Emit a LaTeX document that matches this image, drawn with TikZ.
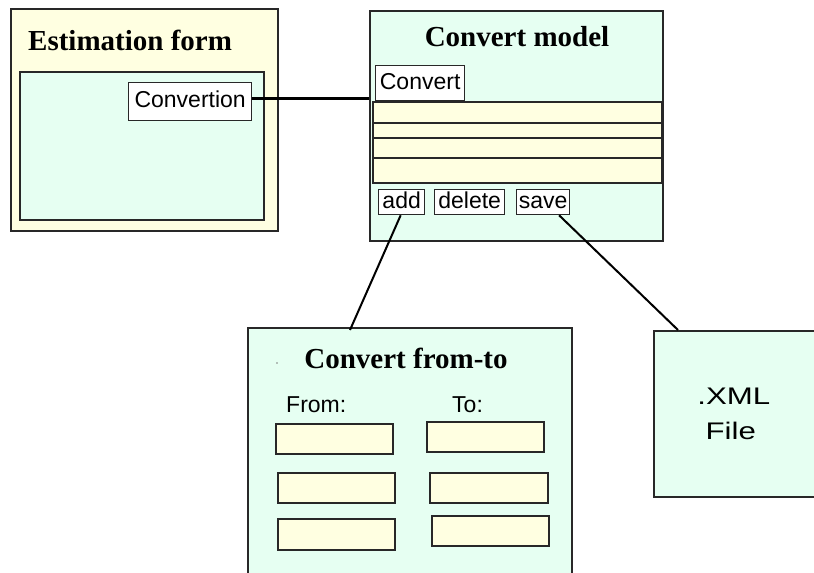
\documentclass[tikz,border=0pt]{standalone}
\usepackage{fontspec}
\setmainfont{Liberation Serif}
\setsansfont{Liberation Sans}
\usepackage{xcolor}
\usetikzlibrary{positioning}
\definecolor{mintbg}{RGB}{230,255,242}
\definecolor{creambg}{RGB}{255,255,225}
\definecolor{edgegray}{RGB}{40,40,40}

\begin{document}
\begin{tikzpicture}[
    x=1pt, y=-1pt,
    panel/.style={draw=edgegray, line width=1.6pt, anchor=north west, inner sep=0pt},
    btn/.style={draw=edgegray, line width=1.3pt, fill=white, anchor=north west, inner sep=0pt,
                text height=15.5pt, text depth=3pt, font=\sffamily\fontsize{23}{26}\selectfont},
    field/.style={draw=edgegray, line width=1.6pt, fill=creambg, anchor=north west, inner sep=0pt},
    rowbox/.style={draw=edgegray, line width=1.9pt, fill=creambg, anchor=north west, inner sep=0pt, minimum width=289pt},
    title/.style={font=\bfseries\fontsize{29}{32}\selectfont, inner sep=0pt},
    lbl/.style={font=\sffamily\fontsize{23}{26}\selectfont, inner sep=0pt, anchor=west},
    link/.style={line width=2pt, black}
]
\useasboundingbox (0,0) rectangle (814,573);
\fill[white] (0,0) rectangle (814,573);
\clip (0,0) rectangle (814,573);

% estimation form
\node[panel, fill=creambg, minimum width=267pt, minimum height=222pt] (estform) at (10,8) {};
\node[title, anchor=west] (esttitle) at (28,40) {Estimation form};
\node[panel, fill=mintbg, minimum width=244pt, minimum height=148pt] (estinner) at (19,71) {};
\node[btn, minimum width=123pt, minimum height=38pt] (convertion) at (128,82) {Convertion};

% convert model
\node[panel, fill=mintbg, minimum width=293pt, minimum height=230pt] (convmodel) at (369,10) {};
\node[title] (convtitle) at (517,37) {Convert model};
\node[btn, minimum width=89pt, minimum height=35pt] (convert) at (375,65) {Convert};
\node[rowbox, minimum height=21pt] (rowa) at (372,101) {};
\node[rowbox, minimum height=15pt] (rowb) at (372,122) {};
\node[rowbox, minimum height=20pt] (rowc) at (372,137) {};
\node[rowbox, minimum height=25pt] (rowd) at (372,157) {};
\node[btn, minimum width=46pt, minimum height=25pt] (add) at (378,189) {add};
\node[btn, minimum width=70pt, minimum height=25pt] (delete) at (434,189) {delete};
\node[btn, minimum width=53pt, minimum height=25pt] (save) at (516,189) {save};

% convert from-to
\node[panel, fill=mintbg, minimum width=324pt, minimum height=270pt] (fromto) at (247,327) {};
\fill[gray] (277,363) circle (0.8pt);
\node[title] (fromtotitle) at (406,358) {Convert from-to};
\node[lbl] (fromlbl) at (286,405) {From:};
\node[lbl] (tolbl) at (452,405) {To:};
\node[field, minimum width=117pt, minimum height=30pt] (froma) at (275,423) {};
\node[field, minimum width=117pt, minimum height=30pt] (toa) at (426,421) {};
\node[field, minimum width=117pt, minimum height=30pt] (fromb) at (277,472) {};
\node[field, minimum width=118pt, minimum height=30pt] (tob) at (429,472) {};
\node[field, minimum width=117pt, minimum height=31pt] (fromc) at (277,518) {};
\node[field, minimum width=117pt, minimum height=30pt] (toc) at (431,515) {};

% xml file
\node[panel, fill=mintbg, minimum width=180pt, minimum height=166pt, align=center,
      font=\sffamily\fontsize{24}{35}\selectfont, text depth=0pt] (xmlfile) at (653,330)
      {\scalebox{1.3}[1]{.XML}\hspace*{20pt}\\\scalebox{1.3}[1]{File}\hspace*{26pt}};

% links
\draw[link, line width=2.4pt] ([yshift=3pt]convertion.east) -- ([yshift=3pt]convertion.east -| convmodel.west);
\draw[link] ([xshift=-1pt]add.south) -- ([xshift=103pt, yshift=-3pt]fromto.north west);
\draw[link] ([xshift=16pt]save.south) -- ([xshift=25pt]xmlfile.north west);
\end{tikzpicture}
\end{document}
